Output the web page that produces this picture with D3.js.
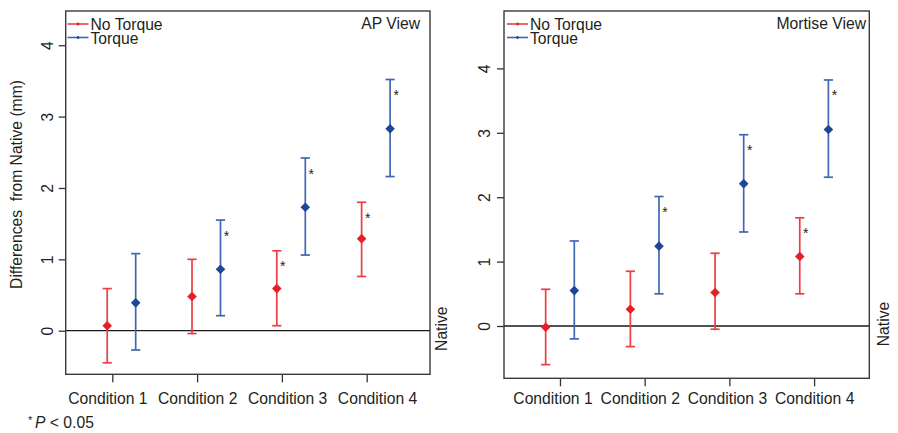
<!DOCTYPE html>
<html>
<head>
<meta charset="utf-8">
<script src="https://cdn.jsdelivr.net/npm/d3@7"></script>
<style>
  html, body { margin: 0; padding: 0; background: #fff; }
  svg { display: block; font-family: "Liberation Sans", Arial, Helvetica, sans-serif; }
</style>
</head>
<body>
<svg id="chart" width="898" height="433"></svg>
<script>
// ---- data -------------------------------------------------------------
const conditions = ["Condition 1", "Condition 2", "Condition 3", "Condition 4"];
const seriesNames = ["No Torque", "Torque"];
const yTicks = [0, 1, 2, 3, 4];

// AP view: mean difference from native (mm) with interval ends
const apNoTorqueMean = [0.07, 0.48, 0.59, 1.29];
const apNoTorqueLow  = [-0.45, -0.04, 0.07, 0.76];
const apNoTorqueHigh = [0.59, 1.00, 1.12, 1.80];
const apNoTorqueSig  = [false, false, true, true];
const apTorqueMean   = [0.39, 0.86, 1.73, 2.83];
const apTorqueLow    = [-0.27, 0.21, 1.06, 2.16];
const apTorqueHigh   = [1.08, 1.55, 2.42, 3.52];
const apTorqueSig    = [false, true, true, true];

// Mortise view
const mortiseNoTorqueMean = [-0.02, 0.26, 0.52, 1.08];
const mortiseNoTorqueLow  = [-0.60, -0.32, -0.05, 0.50];
const mortiseNoTorqueHigh = [0.57, 0.85, 1.13, 1.68];
const mortiseNoTorqueSig  = [false, false, false, true];
const mortiseTorqueMean   = [0.55, 1.24, 2.21, 3.05];
const mortiseTorqueLow    = [-0.20, 0.50, 1.46, 2.31];
const mortiseTorqueHigh   = [1.32, 2.01, 2.97, 3.82];
const mortiseTorqueSig    = [false, true, true, true];

// ---- styling ----------------------------------------------------------
const FONT = 15.7;
const TEXT = "#231f20";
const colors = {
  noTorque: { bar: "#ee3d43", mark: "#e61f27" },
  torque:   { bar: "#3f67b3", mark: "#1d4695" }
};

const svg = d3.select("#chart");

function buildSeries(mean, low, high, sig) {
  return mean.map((m, i) => ({ cond: i + 1, mean: m, low: low[i], high: high[i], sig: sig[i] }));
}

function drawPanel(p) {
  const x = d3.scaleLinear().domain(p.xDomain).range([p.left, p.right]);
  const y = d3.scaleLinear().domain(p.yDomain).range([p.bottom, p.top]);
  // category labels are spread a little wider than the tick marks
  const labelX = d3.scalePoint().domain(conditions).range(p.labelRange);
  const g = svg.append("g");

  // x axis (ticks below the frame)
  const xAxis = d3.axisBottom(x)
    .tickValues([1, 2, 3, 4])
    .tickFormat(d => conditions[d - 1])
    .tickSize(8);
  const xg = g.append("g").attr("transform", `translate(0,${p.bottom})`).call(xAxis);
  xg.select(".domain").remove();
  xg.selectAll(".tick line").attr("stroke", "#333").attr("stroke-width", 1.3);
  xg.selectAll(".tick text")
    .attr("x", d => labelX(conditions[d - 1]) - x(d))
    .attr("y", p.xLabelOffset).attr("dy", 0)
    .attr("fill", TEXT).style("font-size", FONT + "px").style("font-family", "inherit");

  // y axis with labels rotated along the axis
  const yAxis = d3.axisLeft(y).tickValues(yTicks).tickFormat(d3.format("d")).tickSize(7);
  const yg = g.append("g").attr("transform", `translate(${p.left},0)`).call(yAxis);
  yg.select(".domain").remove();
  yg.selectAll(".tick line").attr("stroke", "#333").attr("stroke-width", 1.3);
  yg.selectAll(".tick text")
    .attr("x", 0).attr("y", 0).attr("dy", 0)
    .attr("text-anchor", "middle")
    .attr("transform", `translate(${p.yLabelOffset},0) rotate(-90)`)
    .attr("fill", TEXT).style("font-size", FONT + "px").style("font-family", "inherit");

  // reference line at zero (native)
  g.append("line")
    .attr("x1", p.left).attr("x2", p.right)
    .attr("y1", y(0)).attr("y2", y(0))
    .attr("stroke", "#1a1a1a").attr("stroke-width", 1.3);

  // error bars, diamonds and significance marks
  const groups = [
    { data: p.noTorque, col: colors.noTorque, off: p.offsets[0] },
    { data: p.torque,   col: colors.torque,   off: p.offsets[1] }
  ];
  const diamond = d3.symbol().type(d3.symbolSquare).size(46);
  const capHalf = 4.6;
  groups.forEach(s => {
    const sg = g.append("g");
    const cx = d => x(d.cond + s.off);
    sg.selectAll("line.stem").data(s.data).join("line")
      .attr("class", "stem")
      .attr("x1", cx).attr("x2", cx)
      .attr("y1", d => y(d.low)).attr("y2", d => y(d.high))
      .attr("stroke", s.col.bar).attr("stroke-width", 1.7);
    ["low", "high"].forEach(k => {
      sg.selectAll("line.cap-" + k).data(s.data).join("line")
        .attr("class", "cap-" + k)
        .attr("x1", d => cx(d) - capHalf).attr("x2", d => cx(d) + capHalf)
        .attr("y1", d => y(d[k])).attr("y2", d => y(d[k]))
        .attr("stroke", s.col.bar).attr("stroke-width", 1.7);
    });
    sg.selectAll("path.mean").data(s.data).join("path")
      .attr("class", "mean")
      .attr("d", diamond)
      .attr("transform", d => `translate(${cx(d)},${y(d.mean)}) rotate(45)`)
      .attr("fill", s.col.mark);
    sg.selectAll("text.sig").data(s.data.filter(d => d.sig)).join("text")
      .attr("class", "sig")
      .attr("x", d => cx(d) + 6)
      .attr("y", d => y(d.high) + 20.5)
      .attr("text-anchor", "middle")
      .attr("fill", TEXT)
      .style("font-size", "14px")
      .text("*");
  });

  // frame
  g.append("rect")
    .attr("x", p.left).attr("y", p.top)
    .attr("width", p.right - p.left).attr("height", p.bottom - p.top)
    .attr("fill", "none").attr("stroke", "#3a3a3a").attr("stroke-width", 1.4);

  // legend
  const lg = g.append("g");
  [colors.noTorque, colors.torque].forEach((c, i) => {
    const ly = p.legendY + i * 13.5;
    lg.append("line")
      .attr("x1", p.legendX).attr("x2", p.legendX + 21)
      .attr("y1", ly).attr("y2", ly)
      .attr("stroke", c.bar).attr("stroke-width", 1.6);
    lg.append("path")
      .attr("d", d3.symbol().type(d3.symbolSquare).size(7))
      .attr("transform", `translate(${p.legendX + 10.5},${ly}) rotate(45)`)
      .attr("fill", c.mark);
    lg.append("text")
      .attr("x", p.legendX + 23).attr("y", ly + 6)
      .attr("fill", TEXT).style("font-size", FONT + "px")
      .text(seriesNames[i]);
  });

  // view title
  g.append("text")
    .attr("x", p.titleX).attr("y", 28.5)
    .attr("text-anchor", "end")
    .attr("fill", TEXT).style("font-size", FONT + "px")
    .text(p.title);

  // "Native" marker on the right side at the zero line
  g.append("text")
    .attr("transform", `translate(${p.right + p.nativeOffset},${y(0) - 2}) rotate(-90)`)
    .attr("text-anchor", "middle")
    .attr("fill", TEXT).style("font-size", FONT + "px")
    .text("Native");
}

drawPanel({
  title: "AP View",
  left: 65.7, right: 430, top: 11, bottom: 374.3,
  xDomain: [0.4505, 4.7465], yDomain: [-0.611, 4.48],
  offsets: [-0.06, 0.276],
  labelRange: [107.3, 377],
  xLabelOffset: 30, yLabelOffset: -12.7,
  legendX: 67.5, legendY: 24,
  titleX: 420, nativeOffset: 16.7,
  noTorque: buildSeries(apNoTorqueMean, apNoTorqueLow, apNoTorqueHigh, apNoTorqueSig),
  torque: buildSeries(apTorqueMean, apTorqueLow, apTorqueHigh, apTorqueSig)
});

drawPanel({
  title: "Mortise View",
  left: 504, right: 869.3, top: 11, bottom: 378.3,
  xDomain: [0.339, 4.652], yDomain: [-0.812, 4.891],
  offsets: [-0.169, 0.169],
  labelRange: [552.5, 814.2],
  xLabelOffset: 26, yLabelOffset: -14,
  legendX: 507, legendY: 24,
  titleX: 866, nativeOffset: 20,
  noTorque: buildSeries(mortiseNoTorqueMean, mortiseNoTorqueLow, mortiseNoTorqueHigh, mortiseNoTorqueSig),
  torque: buildSeries(mortiseTorqueMean, mortiseTorqueLow, mortiseTorqueHigh, mortiseTorqueSig)
});

// shared y-axis title
svg.append("text")
  .attr("transform", "translate(21.5,184.5) rotate(-90)")
  .attr("text-anchor", "middle")
  .attr("fill", TEXT).style("font-size", FONT + "px")
  .style("white-space", "pre")
  .text("Differences  from Native (mm)");

// significance footnote
const foot = svg.append("text").attr("y", 428.3).attr("fill", TEXT).style("font-size", FONT + "px");
foot.append("tspan").attr("x", 28).attr("dy", -4).style("font-size", "11px").text("*");
foot.append("tspan").attr("x", 35).attr("dy", 4).style("font-style", "italic").text("P");
foot.append("tspan").style("white-space", "pre").text(" < 0.05");
</script>
</body>
</html>
